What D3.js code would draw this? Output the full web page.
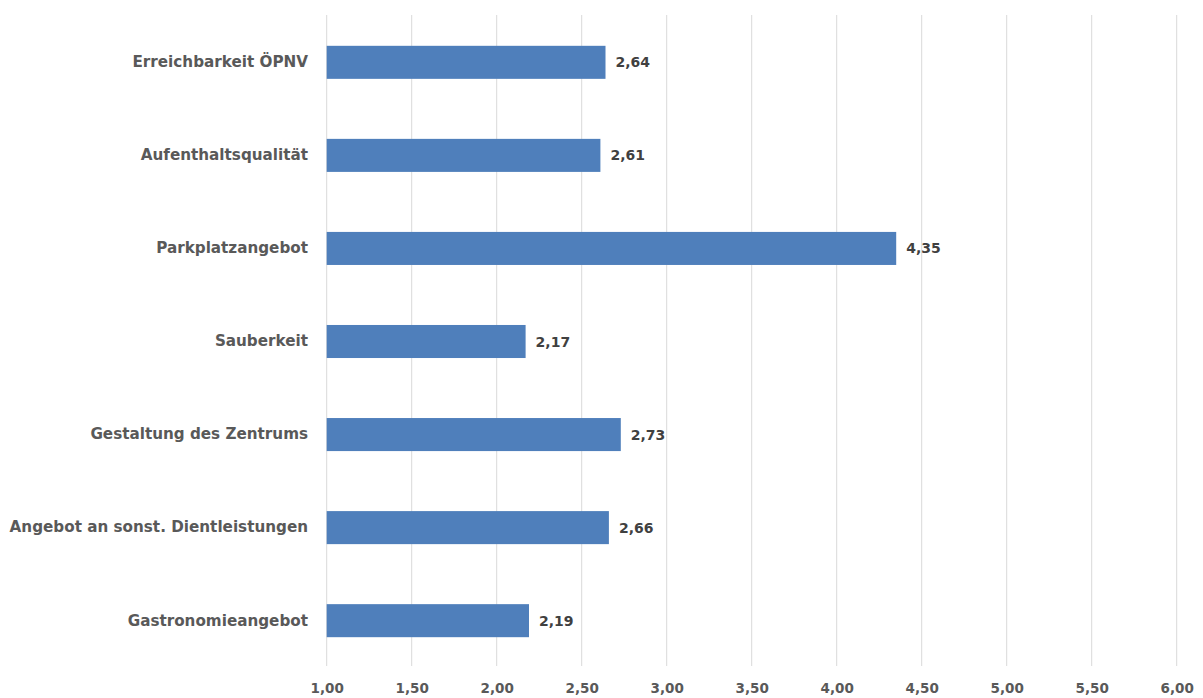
<!DOCTYPE html>
<html><head><meta charset="utf-8">
<script src="https://cdn.jsdelivr.net/npm/d3@7"></script>
<style>body{margin:0;background:#fff}svg{display:block}</style>
</head><body><svg id="c" width="1203" height="698"></svg>
<script>
const categories = ["Erreichbarkeit ÖPNV","Aufenthaltsqualität","Parkplatzangebot","Sauberkeit","Gestaltung des Zentrums","Angebot an sonst. Dientleistungen","Gastronomieangebot"];
const values = [2.64, 2.61, 4.35, 2.17, 2.73, 2.66, 2.19];
const tickValues = [1.0,1.5,2.0,2.5,3.0,3.5,4.0,4.5,5.0,5.5,6.0];

const svg = d3.select("#c");
const font = "'DejaVu Sans',sans-serif";
const x = d3.scaleLinear().domain([1,6]).range([326.7,1176.7]);
const y = d3.scaleBand().domain(categories).range([15.8,667.2]).paddingInner(0.645).paddingOuter(0.3225);
const fmt = v => d3.format(".2f")(v).replace(".", ",");

// gridlines
svg.append("g").selectAll("line").data(tickValues).join("line")
  .attr("x1", d=>x(d)).attr("x2", d=>x(d)).attr("y1", 15).attr("y2", 666)
  .attr("stroke", "#d9d9d9").attr("stroke-width", 1);

// x axis labels
const xa = svg.append("g").attr("transform","translate(0,688)")
  .call(d3.axisBottom(x).tickValues(tickValues).tickSize(0).tickPadding(0).tickFormat(fmt));
xa.select(".domain").remove();
xa.selectAll("text").attr("font-family", font).attr("font-size", 13.5).attr("font-weight","bold")
  .attr("fill","#595959").attr("dy","0.36em");

// y axis labels
const ya = svg.append("g").attr("transform","translate(308,0)")
  .call(d3.axisLeft(y).tickSize(0).tickPadding(0));
ya.select(".domain").remove();
ya.selectAll("text").attr("font-family", font).attr("font-size", 15.2).attr("font-weight","bold")
  .attr("fill","#595959");

// bars
svg.append("g").selectAll("rect").data(values).join("rect")
  .attr("x", x(1)).attr("y", (d,i)=>y(categories[i]))
  .attr("width", d=>x(d)-x(1)).attr("height", y.bandwidth())
  .attr("fill","#4f7fbb");

// value labels
svg.append("g").selectAll("text").data(values).join("text")
  .attr("x", d=>x(d)+10).attr("y", (d,i)=>y(categories[i])+y.bandwidth()/2)
  .attr("dy","0.36em").attr("font-family", font).attr("font-size", 14).attr("font-weight","bold")
  .attr("fill","#404040").text(fmt);
</script></body></html>
